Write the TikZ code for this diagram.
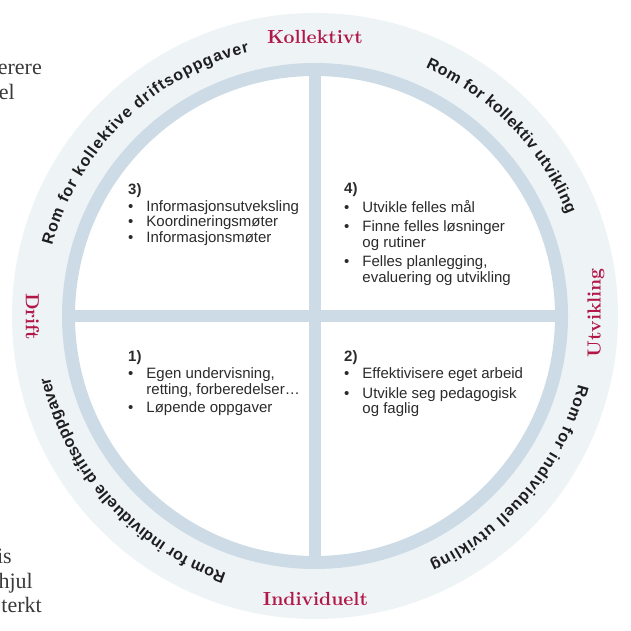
\documentclass[tikz,border=0pt]{standalone}
\usepackage{fontspec}
\usetikzlibrary{decorations.text}
\newfontfamily\qfontfam{Liberation Sans}
\newfontfamily\pagefontfam{Liberation Serif}
\newfontfamily\labelfam{lmroman10-bold}[Extension=.otf]
\definecolor{outerfill}{HTML}{EEF3F6}
\definecolor{ringcol}{HTML}{CCDBE5}
\definecolor{crimson}{HTML}{B11747}
\definecolor{bodytext}{HTML}{2B2B2B}
\definecolor{arctextcol}{HTML}{1E1E1E}
\definecolor{pagetext}{HTML}{3A3A3A}
\newcommand\qfont{\qfontfam\fontsize{15}{15.3}\selectfont}
\newcommand\arcfont{\qfontfam\bfseries\fontsize{16}{18}\selectfont}
\begin{document}
\begin{tikzpicture}[x=1pt,y=1pt,
  sidelabel/.style={font=\labelfam\fontsize{19}{22}\selectfont, text=crimson, inner sep=0pt},
  quad/.style={anchor=base west, inner sep=0pt, font=\qfont, text=bodytext},
  pagetxt/.style={anchor=base east, inner sep=0pt, font=\pagefontfam\fontsize{22}{25}\selectfont, text=pagetext},
  crossline/.style={draw=ringcol, line width=12pt},
  arctext/.style={decorate, decoration={text along path, text align={fit to path}, text color=arctextcol}}]
\useasboundingbox (0,0) rectangle (631,631);
\fill[white] (0,0) rectangle (631,631);
\coordinate (C) at (315,315);
\node[circle, fill=outerfill, minimum size=606pt, inner sep=0pt] (outer) at (C) {};
\node[circle, fill=white, draw=ringcol, line width=13pt, minimum size=493pt, inner sep=0pt] (ring) at (C) {};
\draw[crossline] (ring.north) -- (ring.south);
\draw[crossline] (ring.west) -- (ring.east);

% side labels
\node[sidelabel] (kol) at (315,594) {Kollektivt};
\node[sidelabel] (ind) at (315.5,32.5) {Individuelt};
\node[sidelabel, rotate=-90] (dri) at (32.5,314.5) {Drift};
\node[sidelabel, rotate=90] (utv) at (596,318) {Utvikling};

% arc texts
\path[arctext, decoration={text={|\arcfont|Rom for kollektive driftsoppgaver}}]
  ([shift={(165:272)}]C) arc[start angle=165, end angle=104, radius=272];
\path[arctext, decoration={text={|\arcfont|Rom for kollektiv utvikling}}]
  ([shift={(66:272)}]C) arc[start angle=66, end angle=22, radius=272];
\path[arctext, decoration={text={|\arcfont|Rom for individuell utvikling}}]
  ([shift={(-14.6:272)}]C) arc[start angle=-14.6, end angle=-65, radius=272];
\path[arctext, decoration={text={|\arcfont|Rom for individuelle driftsoppgaver}}]
  ([shift={(251:272)}]C) arc[start angle=251, end angle=193, radius=272];

% quadrant texts
\node[quad] (q3) at (128,436.5) {\begin{tabular}[t]{@{}l@{\hspace{13pt}}l@{}}
\multicolumn{2}{@{}l@{}}{\bfseries 3)}\\[1.5pt]
\textbullet & Informasjonsutveksling\\
\textbullet & Koordineringsmøter\\
\textbullet & Informasjonsmøter
\end{tabular}};
\node[quad] (q4) at (344,437) {\begin{tabular}[t]{@{}l@{\hspace{13pt}}l@{}}
\multicolumn{2}{@{}l@{}}{\bfseries 4)}\\[1.5pt]
\textbullet & Utvikle felles mål\\[4pt]
\textbullet & Finne felles løsninger\\
 & og rutiner\\[4pt]
\textbullet & Felles planlegging,\\
 & evaluering og utvikling
\end{tabular}};
\node[quad] (q1) at (128,269) {\begin{tabular}[t]{@{}l@{\hspace{13pt}}l@{}}
\multicolumn{2}{@{}l@{}}{\bfseries 1)}\\[1.5pt]
\textbullet & Egen undervisning,\\
 & retting, forberedelser…\\[3pt]
\textbullet & Løpende oppgaver
\end{tabular}};
\node[quad] (q2) at (344,269) {\begin{tabular}[t]{@{}l@{\hspace{13pt}}l@{}}
\multicolumn{2}{@{}l@{}}{\bfseries 2)}\\[1.5pt]
\textbullet & Effektivisere eget arbeid\\[4pt]
\textbullet & Utvikle seg pedagogisk\\
 & og faglig
\end{tabular}};

% page text fragments
\node[pagetxt] (p1) at (42,556) {erere};
\node[pagetxt] (p2) at (15,531) {el};
\node[pagetxt] (p3) at (12,67) {is};
\node[pagetxt] (p4) at (33,42.5) {hjul};
\node[pagetxt] (p5) at (42,18) {terkt};
\end{tikzpicture}
\end{document}
